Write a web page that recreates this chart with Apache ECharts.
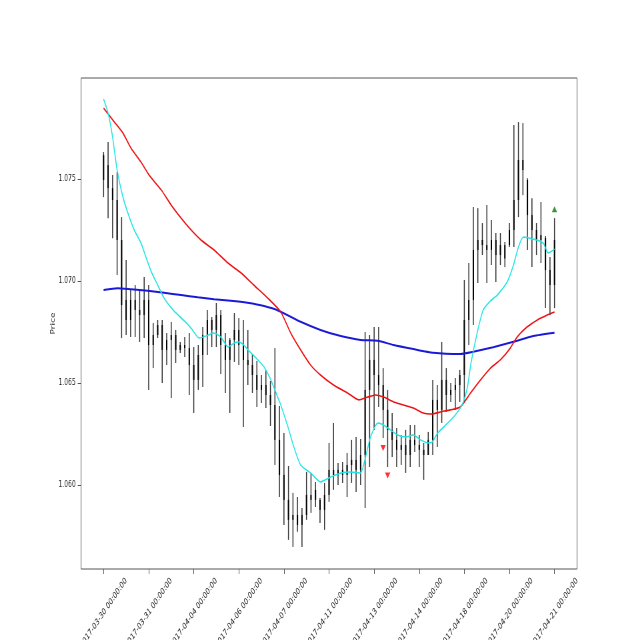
<!DOCTYPE html>
<html>
<head>
<meta charset="utf-8">
<script src="https://cdn.jsdelivr.net/npm/echarts@6/dist/echarts.min.js"></script>
<style>
  html, body { margin: 0; padding: 0; overflow: hidden; background: #fff; }
  #wrap { width: 640px; height: 640px; overflow: hidden; }
  /* the figure is drawn wide and squeezed horizontally, like the reference */
  #chart { width: 960px; height: 640px; transform: scaleX(0.66667); transform-origin: 0 0; }
</style>
</head>
<body>
<div id="wrap"><div id="chart"></div></div>
<script>
const tickDates = ['2017-03-30 00:00:00', '2017-03-31 00:00:00', '2017-04-04 00:00:00', '2017-04-06 00:00:00',
  '2017-04-07 00:00:00', '2017-04-11 00:00:00', '2017-04-13 00:00:00', '2017-04-14 00:00:00',
  '2017-04-18 00:00:00', '2017-04-20 00:00:00', '2017-04-21 00:00:00'];
const tickIndex = [0, 10, 20, 30, 40, 50, 60, 70, 80, 90, 100];
const priceTicks = [1.060, 1.065, 1.070, 1.075];

const opens = [1.07617, 1.07568, 1.07455, 1.07397, 1.07201, 1.06907, 1.06809, 1.06907, 1.06858, 1.06833,
  1.06907, 1.06686, 1.06735, 1.06784, 1.06662, 1.06711, 1.06735, 1.06662, 1.06686, 1.06671,
  1.06588, 1.06515, 1.06637, 1.06735, 1.06809, 1.06760, 1.06833, 1.06686, 1.06613, 1.06711,
  1.06760, 1.06686, 1.06613, 1.06588, 1.06539, 1.06466, 1.06490, 1.06441, 1.06392, 1.06221,
  1.06049, 1.05927, 1.05829, 1.05853, 1.05804, 1.05853, 1.05951, 1.05927, 1.05927, 1.05878,
  1.05951, 1.06074, 1.06049, 1.06074, 1.06049, 1.06098, 1.06123, 1.06074, 1.06147, 1.06466,
  1.06613, 1.06539, 1.06490, 1.06368, 1.06270, 1.06221, 1.06172, 1.06196, 1.06147, 1.06221,
  1.06196, 1.06172, 1.06147, 1.06221, 1.06417, 1.06368, 1.06515, 1.06441, 1.06466, 1.06490,
  1.06539, 1.06809, 1.06907, 1.07152, 1.07201, 1.07176, 1.07152, 1.07201, 1.07127, 1.07176,
  1.07176, 1.07250, 1.07397, 1.07593, 1.07495, 1.07323, 1.07250, 1.07201, 1.07210, 1.07054,
  1.06980];
const highs = [1.07632, 1.07681, 1.07519, 1.07534, 1.07313, 1.07103, 1.06956, 1.06980, 1.06956, 1.07019,
  1.06980, 1.06794, 1.06809, 1.06809, 1.06745, 1.06799, 1.06760, 1.06701, 1.06725, 1.06745,
  1.06676, 1.06686, 1.06774, 1.06858, 1.06823, 1.06892, 1.06858, 1.06745, 1.06720, 1.06843,
  1.06818, 1.06809, 1.06760, 1.06642, 1.06608, 1.06539, 1.06564, 1.06510, 1.06671, 1.06387,
  1.06255, 1.06093, 1.05961, 1.05941, 1.05887, 1.06064, 1.06059, 1.06015, 1.05936, 1.06010,
  1.06206, 1.06304, 1.06108, 1.06113, 1.06157, 1.06221, 1.06235, 1.06225, 1.06750, 1.06735,
  1.06774, 1.06774, 1.06573, 1.06466, 1.06353, 1.06279, 1.06245, 1.06270, 1.06294, 1.06294,
  1.06245, 1.06206, 1.06260, 1.06515, 1.06490, 1.06701, 1.06573, 1.06500, 1.06524, 1.06564,
  1.07005, 1.07088, 1.07362, 1.07357, 1.07284, 1.07372, 1.07299, 1.07235, 1.07235, 1.07191,
  1.07284, 1.07764, 1.07779, 1.07774, 1.07504, 1.07406, 1.07284, 1.07387, 1.07220, 1.07117,
  1.07308];
const lows = [1.07411, 1.07308, 1.07210, 1.07029, 1.06720, 1.06735, 1.06725, 1.06725, 1.06701, 1.06720,
  1.06466, 1.06573, 1.06720, 1.06500, 1.06588, 1.06426, 1.06598, 1.06647, 1.06627, 1.06441,
  1.06353, 1.06466, 1.06480, 1.06637, 1.06676, 1.06676, 1.06544, 1.06451, 1.06353, 1.06603,
  1.06588, 1.06284, 1.06490, 1.06451, 1.06382, 1.06402, 1.06377, 1.06289, 1.06098, 1.05941,
  1.05804, 1.05731, 1.05696, 1.05770, 1.05696, 1.05829, 1.05863, 1.05892, 1.05814, 1.05780,
  1.05917, 1.05976, 1.06000, 1.06010, 1.05941, 1.06010, 1.05966, 1.06000, 1.05887, 1.06088,
  1.06270, 1.06382, 1.06230, 1.06088, 1.06137, 1.06088, 1.06098, 1.06059, 1.06088, 1.06162,
  1.06088, 1.06025, 1.06147, 1.06147, 1.06186, 1.06304, 1.06358, 1.06407, 1.06368, 1.06407,
  1.06402, 1.06686, 1.06784, 1.06990, 1.07127, 1.06990, 1.07078, 1.06995, 1.07078, 1.07068,
  1.07166, 1.07166, 1.07313, 1.07421, 1.07152, 1.07068, 1.07127, 1.07088, 1.06867, 1.06833,
  1.06867];
const closes = [1.07495, 1.07455, 1.07397, 1.07201, 1.06882, 1.06809, 1.06907, 1.06858, 1.06833, 1.06907,
  1.06686, 1.06735, 1.06784, 1.06662, 1.06711, 1.06735, 1.06662, 1.06686, 1.06671, 1.06588,
  1.06515, 1.06637, 1.06735, 1.06809, 1.06760, 1.06833, 1.06686, 1.06613, 1.06711, 1.06760,
  1.06686, 1.06613, 1.06588, 1.06539, 1.06466, 1.06490, 1.06441, 1.06392, 1.06221, 1.06049,
  1.05927, 1.05829, 1.05853, 1.05804, 1.05853, 1.05951, 1.05927, 1.05976, 1.05878, 1.05951,
  1.06074, 1.06049, 1.06074, 1.06049, 1.06098, 1.06123, 1.06074, 1.06147, 1.06466, 1.06613,
  1.06539, 1.06490, 1.06368, 1.06270, 1.06221, 1.06172, 1.06196, 1.06147, 1.06221, 1.06196,
  1.06172, 1.06147, 1.06221, 1.06417, 1.06368, 1.06515, 1.06441, 1.06466, 1.06490, 1.06539,
  1.06809, 1.06907, 1.07152, 1.07201, 1.07176, 1.07152, 1.07201, 1.07127, 1.07176, 1.07110,
  1.07250, 1.07397, 1.07593, 1.07544, 1.07323, 1.07250, 1.07201, 1.07225, 1.07054, 1.06980,
  1.07201];

// moving averages at [bar index, price]
const maFast = [[0, 1.07891], [1, 1.07823], [2, 1.07705], [3, 1.07544], [4.3, 1.07411], [5.4, 1.07333],
  [6.8, 1.07250], [8.3, 1.07186], [9.4, 1.07117], [10.6, 1.07044], [12, 1.06980], [13.4, 1.06916],
  [15.6, 1.06853], [17.9, 1.06804], [19.4, 1.06769], [21.2, 1.06720], [23.2, 1.06735], [24.5, 1.06745],
  [26, 1.06725], [27.6, 1.06676], [29, 1.06696], [30, 1.06701], [31.1, 1.06686], [32.7, 1.06647],
  [34.2, 1.06613], [35.6, 1.06578], [37.1, 1.06515], [38.6, 1.06431], [39.3, 1.06392], [40.9, 1.06284],
  [42.2, 1.06186], [43.7, 1.06098], [45.9, 1.06059], [48.1, 1.06015], [50.4, 1.06039], [52.6, 1.06059],
  [54.8, 1.06064], [57, 1.06059], [58.1, 1.06137], [59.2, 1.06235], [60.8, 1.06304], [62.1, 1.06294],
  [63.6, 1.06270], [65.2, 1.06245], [67, 1.06235], [68.7, 1.06245], [70.3, 1.06221], [71.9, 1.06206],
  [72.9, 1.06211], [74.1, 1.06255], [75.9, 1.06294], [78, 1.06343], [79.1, 1.06377], [79.8, 1.06407],
  [80.7, 1.06480], [81.5, 1.06600], [82.9, 1.06750], [84.2, 1.06858], [85.8, 1.06902], [87.3, 1.06931],
  [89.5, 1.06995], [90.9, 1.07078], [92, 1.07166], [93.1, 1.07215], [95.3, 1.07205], [97.5, 1.07186],
  [98.6, 1.07137], [100, 1.07156]];
const maMid = [[0, 1.07847], [2.4, 1.07779], [4.3, 1.07725], [6.1, 1.07651], [8.3, 1.07583], [10.1, 1.07519],
  [12.8, 1.07446], [15, 1.07372], [17.2, 1.07308], [19.4, 1.07250], [21.6, 1.07201], [24.5, 1.07152],
  [27.6, 1.07088], [30.5, 1.07039], [33.3, 1.06980], [36.4, 1.06916], [39.3, 1.06848], [41.5, 1.06745],
  [43.7, 1.06662], [45.9, 1.06588], [48.1, 1.06539], [51, 1.06490], [54.1, 1.06451], [56.6, 1.06417],
  [58.6, 1.06431], [60.3, 1.06441], [62.1, 1.06431], [64.3, 1.06407], [66.5, 1.06392], [68.7, 1.06377],
  [70.9, 1.06353], [72.9, 1.06348], [74.7, 1.06358], [76.9, 1.06368], [79.1, 1.06382], [81.4, 1.06451],
  [83.6, 1.06515], [85.8, 1.06573], [88, 1.06613], [90.2, 1.06671], [91.7, 1.06725], [93.9, 1.06774],
  [96.2, 1.06809], [98.4, 1.06833], [100, 1.06848]];
const maSlow = [[0, 1.06956], [3.1, 1.06964], [6.1, 1.06959], [9.8, 1.06952], [13.4, 1.06942], [17.2, 1.06931],
  [20.9, 1.06920], [24.5, 1.06910], [28.2, 1.06903], [31.9, 1.06893], [35.6, 1.06877], [38.9, 1.06853],
  [43.7, 1.06800], [48.1, 1.06760], [52.6, 1.06730], [57, 1.06711], [60.8, 1.06707], [64.3, 1.06686],
  [68.7, 1.06666], [73.1, 1.06648], [79.1, 1.06642], [82, 1.06653], [86.4, 1.06675], [90.9, 1.06702],
  [95.3, 1.06730], [100, 1.06746]];

const sellIndex = [62, 63];
const sellPrice = [1.06181, 1.06046];
const buyIndex = [100];
const buyPrice = [1.07351];

const chart = echarts.init(document.getElementById('chart'));

const ohlc = opens.map((o, i) => [i, o, closes[i], lows[i], highs[i]]);

function renderBar(params, api) {
  const i = api.value(0);
  const hi = api.coord([i, api.value(4)]);
  const lo = api.coord([i, api.value(3)]);
  const o = api.coord([i, api.value(1)]);
  const c = api.coord([i, api.value(2)]);
  const top = Math.min(o[1], c[1]);
  const h = Math.max(Math.abs(o[1] - c[1]), 1);
  return {
    type: 'group',
    children: [
      { type: 'line', shape: { x1: hi[0], y1: hi[1], x2: lo[0], y2: lo[1] }, style: { stroke: '#333', lineWidth: 1.5 } },
      { type: 'rect', shape: { x: hi[0] - 1, y: top, width: 2, height: h }, style: { fill: '#000' } }
    ]
  };
}

chart.setOption({
  animation: false,
  textStyle: { fontFamily: 'DejaVu Sans' },
  grid: {
    left: 121.5, right: 94.5, top: 78, bottom: 71,
    outerBoundsMode: 'none',
    containLabel: false,
    show: true, borderColor: '#555', borderWidth: 1
  },
  xAxis: {
    type: 'value',
    min: -5,
    max: 105,
    axisLine: { show: false, onZero: false },
    splitLine: { show: false },
    axisTick: { show: true, length: 5, lineStyle: { color: '#555' }, customValues: tickIndex },
    axisLabel: {
      customValues: tickIndex,
      rotate: 45,
      align: 'center',
      verticalAlign: 'middle',
      margin: 44,
      fontSize: 9,
      color: '#222',
      formatter: v => tickDates[tickIndex.indexOf(v)]
    }
  },
  yAxis: {
    type: 'value',
    min: 1.05588,
    max: 1.07995,
    name: 'Price',
    nameLocation: 'middle',
    nameGap: 37,
    nameMoveOverlap: false,
    nameTextStyle: { fontSize: 9, color: '#222' },
    axisLine: { show: false, onZero: false },
    splitLine: { show: false },
    axisTick: { show: true, length: 5, lineStyle: { color: '#555' }, customValues: priceTicks },
    axisLabel: {
      customValues: priceTicks,
      margin: 8,
      fontSize: 9,
      color: '#222',
      formatter: v => v.toFixed(3)
    }
  },
  series: [
    {
      type: 'custom',
      renderItem: renderBar,
      encode: { x: 0, y: [1, 2, 3, 4] },
      data: ohlc,
      z: 1
    },
    { type: 'line', data: maSlow, showSymbol: false, smooth: 0.2, lineStyle: { color: '#1a1ad6', width: 2 }, z: 2 },
    { type: 'line', data: maMid, showSymbol: false, smooth: 0.2, lineStyle: { color: '#ee1111', width: 1.6 }, z: 3 },
    { type: 'line', data: maFast, showSymbol: false, smooth: 0.2, lineStyle: { color: '#22e4e4', width: 1.5 }, z: 4 },
    {
      type: 'scatter',
      data: sellIndex.map((x, k) => [x, sellPrice[k]]),
      symbol: 'triangle',
      symbolRotate: 180,
      symbolSize: [8, 6],
      itemStyle: { color: '#ff0000' },
      z: 5
    },
    {
      type: 'scatter',
      data: buyIndex.map((x, k) => [x, buyPrice[k]]),
      symbol: 'triangle',
      symbolSize: [8, 6],
      itemStyle: { color: '#008000' },
      z: 5
    }
  ]
});
</script>
</body>
</html>
